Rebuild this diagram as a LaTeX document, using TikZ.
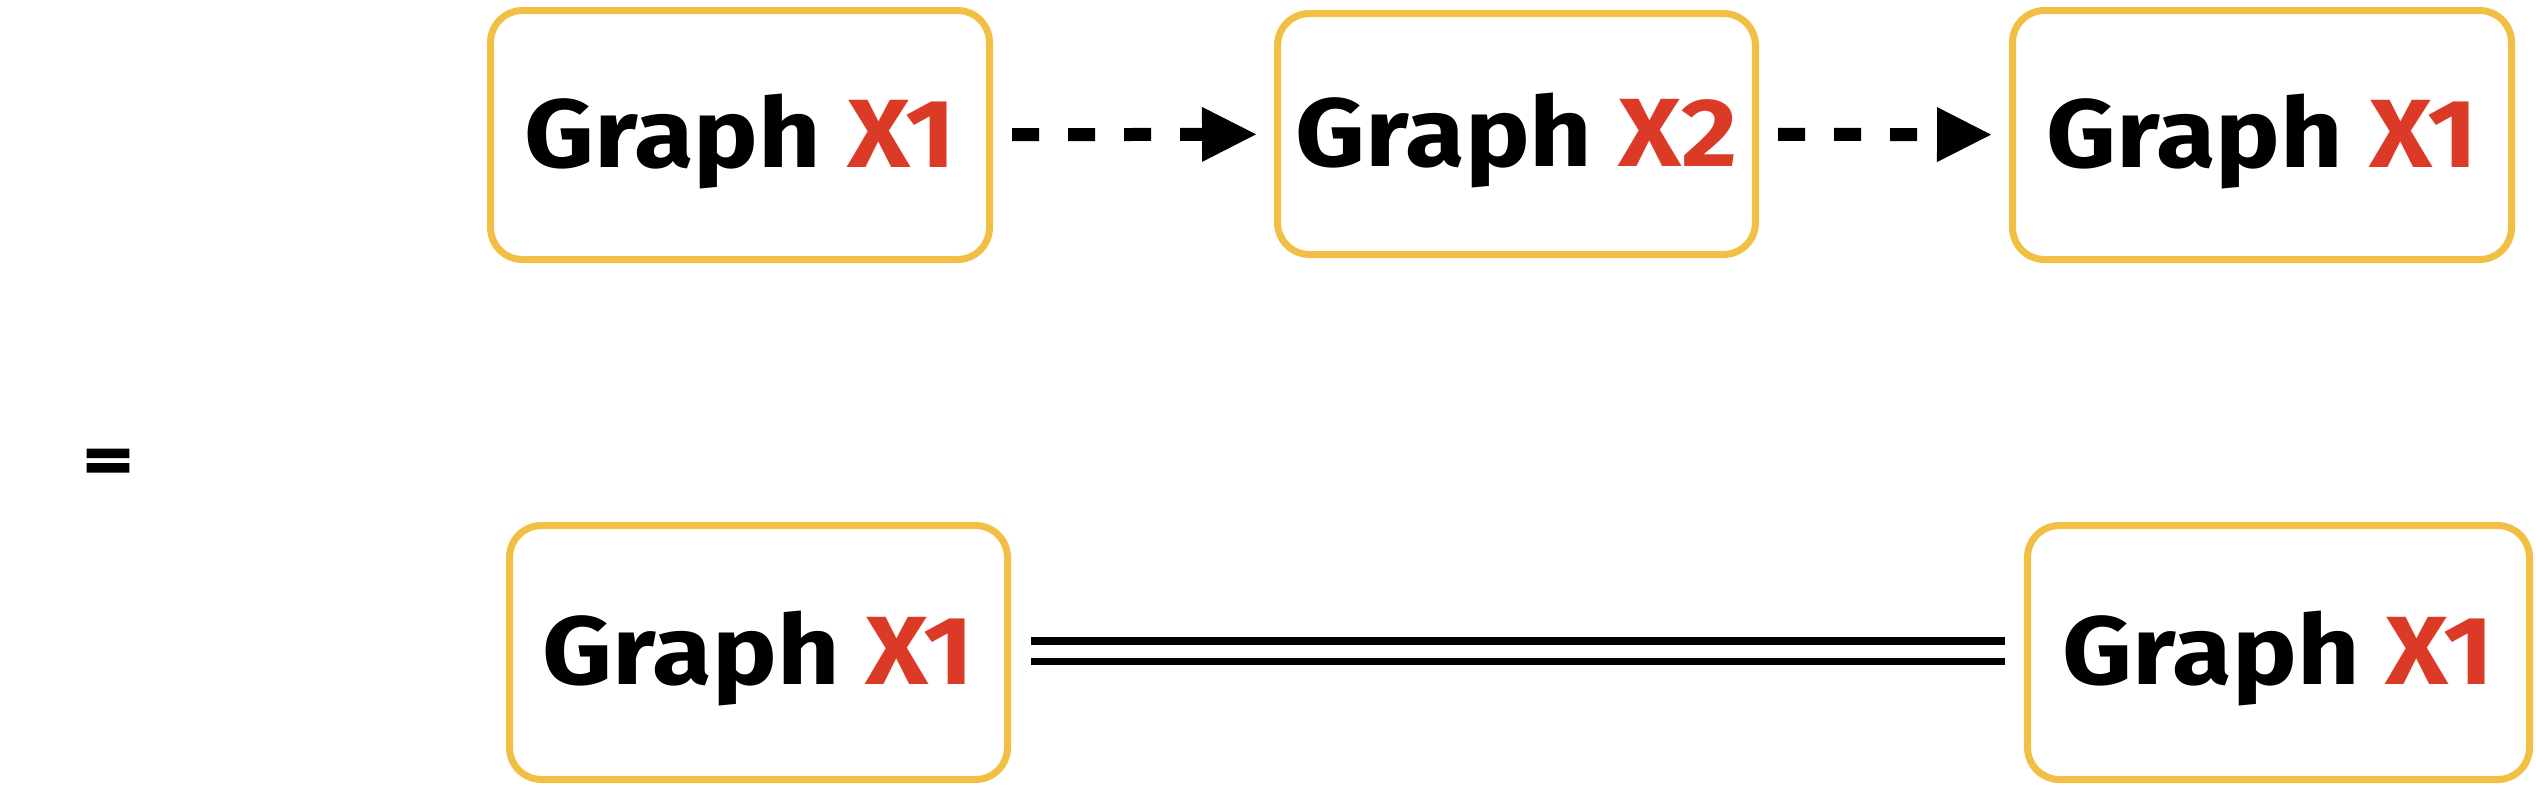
\documentclass[tikz,border=0pt]{standalone}
\usepackage{fontspec}
\setmainfont{Fira Sans}
\newfontfamily\handfont{Fira Sans}[FakeStretch=1.12]
\newfontfamily\eqfont{DejaVu Sans}[BoldFeatures={FakeBold=3}]
\usetikzlibrary{arrows.meta}
\definecolor{boxyellow}{HTML}{F2BF45}
\definecolor{xred}{HTML}{DB3A26}
\tikzset{
  graphbox/.style={draw=boxyellow, line width=7pt, rounded corners=32pt, inner sep=0pt,
    font=\handfont\bfseries\fontsize{97}{100}\selectfont, text height=70pt, text depth=6pt},
  topbox/.style={graphbox, minimum width=499pt, minimum height=249pt},
  dasharrow/.style={line width=13pt, dash pattern=on 27pt off 29pt,
    -{Triangle[length=54pt,width=55pt,line width=0pt]}, shorten <=19pt, shorten >=18pt},
  eqline/.style={double, double distance=13pt, line width=7.5pt, shorten <=20pt, shorten >=19pt},
}
\newcommand{\xred}[1]{\textcolor{xred}{#1}}
\begin{document}
\begin{tikzpicture}[x=1pt,y=-1pt]
\useasboundingbox (0,0) rectangle (2536,788);
% top row
\node[topbox] (t1) at (740,135) {Graph \xred{X1}};
\node[graphbox, minimum width=478pt, minimum height=241pt] (t2) at (1516.5,134) {Graph \xred{X2}};
\node[topbox] (t3) at (2262,135) {Graph \xred{X1}};
\draw[dasharrow] (t1) -- (t2);
\draw[dasharrow] (t2) -- (t3);
% equals sign
\node[anchor=base, inner sep=0pt, font=\eqfont\bfseries\fontsize{65}{70}\selectfont] (eq) at (108,481) {=};
% bottom row
\node[graphbox, minimum width=498pt, minimum height=254pt] (b1) at (758.5,652.5) {Graph \xred{X1}};
\node[graphbox, minimum width=502pt, minimum height=254pt] (b2) at (2278.5,652.5) {Graph \xred{X1}};
\draw[eqline] ([yshift=1.5pt]b1.east) -- ([yshift=1.5pt]b2.west);
\end{tikzpicture}
\end{document}
